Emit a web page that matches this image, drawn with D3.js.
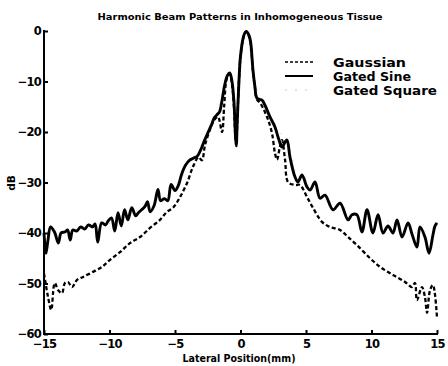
<!DOCTYPE html>
<html>
<head>
<meta charset="utf-8">
<script src="https://cdn.jsdelivr.net/npm/d3@7"></script>
<style>
  body { margin: 0; background: #fff; }
  svg { display: block; font-family: "DejaVu Sans", "Liberation Sans", Arial, sans-serif; }
  .axis path, .axis line { stroke: #000; stroke-width: 2; }
  .axis text { font-size: 11.5px; font-weight: bold; fill: #000; font-family: "DejaVu Sans", sans-serif; }
</style>
</head>
<body>
<svg id="chart" width="448" height="366"></svg>
<script>
// lateral position (mm) / level (dB)
var sineX = [-15.0,-14.85,-14.7,-14.5,-14.2,-13.9,-13.7,-13.4,-13.2,-13.0,-12.8,-12.5,-12.2,-11.9,-11.6,-11.3,-11.1,-10.9,-10.6,-10.3,-10.1,-9.85,-9.6,-9.35,-9.1,-8.85,-8.6,-8.3,-8.0,-7.8,-7.55,-7.3,-7.1,-6.9,-6.6,-6.3,-6.1,-5.8,-5.55,-5.3,-5.0,-4.75,-4.5,-4.2,-3.9,-3.6,-3.3,-3.05,-2.8,-2.5,-2.25,-2.0,-1.8,-1.6,-1.4,-1.2,-1.0,-0.82,-0.65,-0.5,-0.38,-0.32,-0.25,-0.1,0.0,0.2,0.35,0.45,0.6,0.75,0.95,1.1,1.26,1.64,1.87,2.25,2.63,2.94,3.17,3.4,3.55,3.78,4.16,4.39,4.69,5.08,5.31,5.69,6.07,6.45,7.06,7.6,8.21,8.51,8.89,9.27,9.66,10.11,10.5,10.88,11.26,11.64,11.95,12.33,12.79,13.09,13.47,13.7,14.08,14.39,14.69,14.85,15.0];
var sineY = [-40.0,-44.0,-41.5,-38.8,-39.8,-42.0,-40.0,-39.8,-39.4,-41.4,-39.4,-39.6,-38.8,-39.2,-38.4,-38.8,-38.2,-41.8,-38.0,-38.4,-37.6,-37.0,-39.6,-36.0,-38.6,-35.4,-37.4,-35.0,-36.6,-36.0,-35.4,-34.8,-33.8,-35.8,-34.6,-31.4,-33.6,-33.2,-33.6,-30.4,-31.6,-30.6,-28.4,-26.6,-25.6,-25.2,-24.8,-23.6,-22.0,-20.2,-18.8,-17.2,-16.6,-16.0,-13.6,-10.6,-8.8,-8.3,-10.0,-14.0,-21.0,-22.6,-18.0,-9.0,-5.0,-1.4,-0.3,-0.1,-0.6,-1.8,-7.7,-11.0,-13.3,-13.7,-14.7,-17.0,-19.0,-21.6,-23.0,-22.0,-21.6,-25.0,-28.9,-29.9,-28.5,-30.9,-31.5,-29.9,-33.1,-32.5,-35.4,-34.1,-37.4,-36.4,-36.4,-39.8,-35.4,-40.0,-36.4,-40.0,-38.6,-40.0,-37.4,-40.8,-38.0,-40.2,-42.8,-38.8,-40.8,-44.0,-40.4,-38.6,-38.0];

var gaussX = [-15.0,-14.92,-14.69,-14.45,-14.25,-14.16,-13.93,-13.63,-13.4,-13.17,-12.86,-12.48,-12.02,-11.26,-10.57,-9.96,-9.2,-8.44,-7.67,-6.91,-6.15,-5.61,-5.15,-4.62,-4.08,-3.63,-3.2,-2.95,-2.7,-2.33,-2.0,-1.72,-1.41,-1.25,-1.05,-0.82,-0.65,-0.5,-0.38,-0.32,-0.25,-0.1,0.0,0.2,0.35,0.45,0.6,0.75,0.95,1.1,1.26,1.49,2.02,2.4,2.63,2.79,3.0,3.17,3.4,3.63,4.16,4.54,5.08,5.53,6.22,6.83,7.6,8.21,8.89,9.89,10.65,11.64,12.56,13.09,13.32,13.47,13.85,14.08,14.24,14.47,14.69,15.0];
var gaussY = [-48.0,-49.3,-52.7,-55.2,-50.5,-49.9,-51.3,-51.9,-49.9,-49.7,-50.7,-49.3,-48.7,-47.7,-46.7,-45.3,-43.8,-42.0,-40.8,-39.0,-37.4,-35.8,-35.0,-32.9,-30.1,-26.9,-25.0,-25.6,-22.5,-19.5,-17.6,-17.0,-20.0,-15.0,-9.5,-8.5,-10.5,-15.0,-21.5,-22.8,-18.0,-9.0,-5.0,-1.5,-0.3,-0.1,-0.7,-2.0,-7.8,-11.2,-13.6,-14.2,-17.0,-20.2,-24.2,-25.5,-23.0,-21.6,-25.5,-29.9,-30.5,-30.5,-32.9,-35.0,-37.8,-38.8,-39.4,-40.8,-42.4,-45.0,-46.7,-48.3,-49.7,-50.7,-49.9,-53.3,-50.7,-52.7,-55.8,-51.3,-50.3,-56.8];

// barely visible in the scan, sits on top of the gated sine
var squareX = [-15.0,-14.5,-13.5,-12.0,-10.5,-9.0,-7.5,-6.0,-4.5,-3.0,-2.0,-1.2,-0.82,-0.5,-0.32,-0.1,0.45,0.95,1.5,2.5,3.5,4.5,5.5,6.5,7.5,9.0,10.5,12.0,13.5,15.0];
var squareY = [-40.5,-39.5,-40.5,-39.0,-38.5,-37.0,-35.0,-33.0,-29.0,-24.0,-17.5,-11.0,-8.5,-14.5,-22.0,-9.5,-0.3,-7.5,-13.8,-18.5,-21.8,-29.0,-31.0,-33.0,-34.5,-37.0,-37.0,-38.5,-40.0,-38.5];

var xTicks = [-15, -10, -5, 0, 5, 10, 15];
var yTicks = [0, -10, -20, -30, -40, -50, -60];

var legendNames = ['Gaussian', 'Gated Sine', 'Gated Square'];
var legendWidths = [73, 78, 104];

var svg = d3.select('#chart');

var xScale = d3.scaleLinear().domain([-15, 15]).range([44, 437]);
var yScale = d3.scaleLinear().domain([-60, 0]).range([334, 31]);

function zip(xs, ys) {
  return xs.map(function(x, i) { return [x, ys[i]]; });
}

var line = d3.line()
  .x(function(d) { return xScale(d[0]); })
  .y(function(d) { return yScale(d[1]); })
  .curve(d3.curveCatmullRom.alpha(0.5));

var series = [
  { name: legendNames[0], data: zip(gaussX, gaussY), color: '#000', width: 2.3, dash: '4,2.5', legendDash: '3,2', legendWidth: 1.5 },
  { name: legendNames[1], data: zip(sineX, sineY), color: '#000', width: 2.9, dash: null, legendDash: null, legendWidth: 2 },
  { name: legendNames[2], data: zip(squareX, squareY), color: '#c8c8c8', width: 1, dash: '1,9', legendDash: '2,8', legendWidth: 1 }
];

// axes
var xAxis = d3.axisBottom(xScale).tickValues(xTicks).tickSize(-4).tickPadding(6)
  .tickFormat(d3.format('d'));
var yAxis = d3.axisLeft(yScale).tickValues(yTicks).tickSize(-4).tickPadding(3)
  .tickFormat(d3.format('d'));

svg.append('g')
  .attr('class', 'x axis')
  .attr('transform', 'translate(0,334)')
  .call(xAxis)
  .call(function(g) { g.select('.domain').attr('d', 'M43,0H438'); })
  .selectAll('text').attr('dy', '0.72em').attr('letter-spacing', '-0.8');

svg.append('g')
  .attr('class', 'y axis')
  .attr('transform', 'translate(44,0)')
  .call(yAxis)
  .call(function(g) { g.select('.domain').attr('d', 'M0,30V335'); })
  .selectAll('text').attr('letter-spacing', '-0.8');

// curves
svg.selectAll('.curve')
  .data(series.slice().reverse())
  .enter()
  .append('path')
    .attr('class', 'curve')
    .attr('d', function(s) { return line(s.data); })
    .attr('fill', 'none')
    .attr('stroke', function(s) { return s.color; })
    .attr('stroke-width', function(s) { return s.width; })
    .attr('stroke-dasharray', function(s) { return s.dash; })
    .attr('stroke-linejoin', 'round');

// title and labels
svg.append('text')
  .attr('x', 240).attr('y', 20)
  .attr('text-anchor', 'middle')
  .attr('font-size', 9.5)
  .attr('font-weight', 'bold')
  .attr('textLength', 285)
  .attr('lengthAdjust', 'spacingAndGlyphs')
  .text('Harmonic Beam Patterns in Inhomogeneous Tissue');

svg.append('text')
  .attr('x', 239).attr('y', 362)
  .attr('text-anchor', 'middle')
  .attr('font-size', 10.5)
  .attr('font-weight', 'bold')
  .attr('textLength', 113)
  .attr('lengthAdjust', 'spacingAndGlyphs')
  .text('Lateral Position(mm)');

svg.append('text')
  .attr('transform', 'translate(15,183) rotate(-90)')
  .attr('text-anchor', 'middle')
  .attr('font-size', 10.5)
  .attr('font-weight', 'bold')
  .text('dB');

// legend
var legend = svg.append('g').attr('transform', 'translate(285,62)');
var item = legend.selectAll('.item')
  .data(series)
  .enter()
  .append('g')
    .attr('class', 'item')
    .attr('transform', function(s, i) { return 'translate(0,' + (i * 14) + ')'; });

item.append('line')
  .attr('x1', 0).attr('x2', 28)
  .attr('y1', 0).attr('y2', 0)
  .attr('stroke', function(s) { return s.color; })
  .attr('stroke-width', function(s) { return s.legendWidth; })
  .attr('stroke-dasharray', function(s) { return s.legendDash; });

item.append('text')
  .attr('x', 48).attr('y', 4.5)
  .attr('font-size', 12.5)
  .attr('font-weight', 'bold')
  .attr('textLength', function(s, i) { return legendWidths[i]; })
  .attr('lengthAdjust', 'spacingAndGlyphs')
  .text(function(s) { return s.name; });
</script>
</body>
</html>
